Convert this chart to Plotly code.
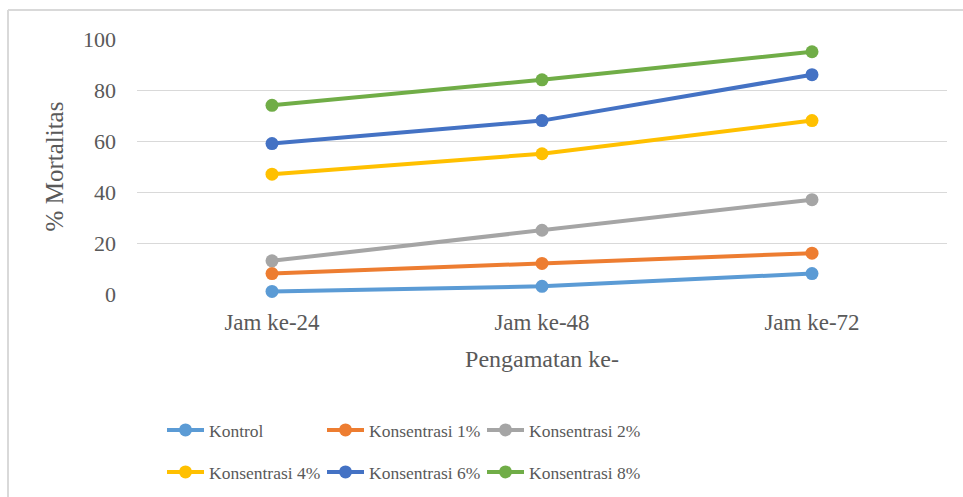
import plotly.graph_objects as go

categories = ["Jam ke-24", "Jam ke-48", "Jam ke-72"]
series_names = ["Kontrol", "Konsentrasi 1%", "Konsentrasi 2%",
                "Konsentrasi 4%", "Konsentrasi 6%", "Konsentrasi 8%"]
kontrol = [1, 3, 8]
konsentrasi_1 = [8, 12, 16]
konsentrasi_2 = [13, 25, 37]
konsentrasi_4 = [47, 55, 68]
konsentrasi_6 = [59, 68, 86]
konsentrasi_8 = [74, 84, 95]
series_values = [kontrol, konsentrasi_1, konsentrasi_2,
                 konsentrasi_4, konsentrasi_6, konsentrasi_8]
colors = ["#5B9BD5", "#ED7D31", "#A5A5A5", "#FFC000", "#4472C4", "#70AD47"]
legend_ids = ["legend", "legend", "legend", "legend2", "legend2", "legend2"]

W, H = 963, 497
L, R, T, B = 137, 16, 39, 203
pw, ph = W - L - R, H - T - B

def px_x(p):
    return (p - L) / pw

def px_y(p):
    return (H - B - p) / ph

FONT = "Liberation Serif"
TXT = "#595959"

fig = go.Figure()
for name, vals, col, lg in zip(series_names, series_values, colors, legend_ids):
    fig.add_trace(go.Scatter(
        x=categories, y=vals, name=name, mode="lines+markers",
        line=dict(color=col, width=4),
        marker=dict(color=col, size=13),
        cliponaxis=False, legend=lg,
    ))

leg_common = dict(orientation="h", x=px_x(162), xanchor="left",
                  yanchor="middle", entrywidth=108, entrywidthmode="pixels",
                  font=dict(size=17.5, family=FONT, color=TXT),
                  bgcolor="rgba(0,0,0,0)", itemwidth=37)

fig.update_layout(
    width=W, height=H,
    margin=dict(l=L, r=R, t=T, b=B, autoexpand=False),
    paper_bgcolor="white", plot_bgcolor="white",
    font=dict(family=FONT, color=TXT, size=22),
    showlegend=True,
    legend=dict(leg_common, y=px_y(430)),
    legend2=dict(leg_common, y=px_y(472)),
    xaxis=dict(type="category", range=[-0.5, 2.5], showgrid=False,
               zeroline=False, showline=False, ticks="",
               tickfont=dict(size=23, family=FONT), ticklabelstandoff=12,
               title=dict(text="Pengamatan ke-", font=dict(size=24, family=FONT),
                          standoff=16)),
    yaxis=dict(range=[0, 100], dtick=20, showgrid=True, gridcolor="#D9D9D9",
               gridwidth=1, zeroline=False, showline=False, ticks="",
               tickfont=dict(size=22, family=FONT), ticklabelstandoff=20,
               title=dict(text="% Mortalitas", font=dict(size=25, family=FONT),
                          standoff=12)),
    shapes=[
        dict(type="line", xref="paper", yref="paper",
             x0=px_x(8), x1=px_x(8), y0=px_y(10), y1=px_y(510),
             line=dict(color="#D9D9D9", width=2)),
        dict(type="line", xref="paper", yref="paper",
             x0=px_x(8), x1=px_x(975), y0=px_y(10), y1=px_y(10),
             line=dict(color="#D9D9D9", width=2)),
    ],
)

fig.write_html("out.html")
